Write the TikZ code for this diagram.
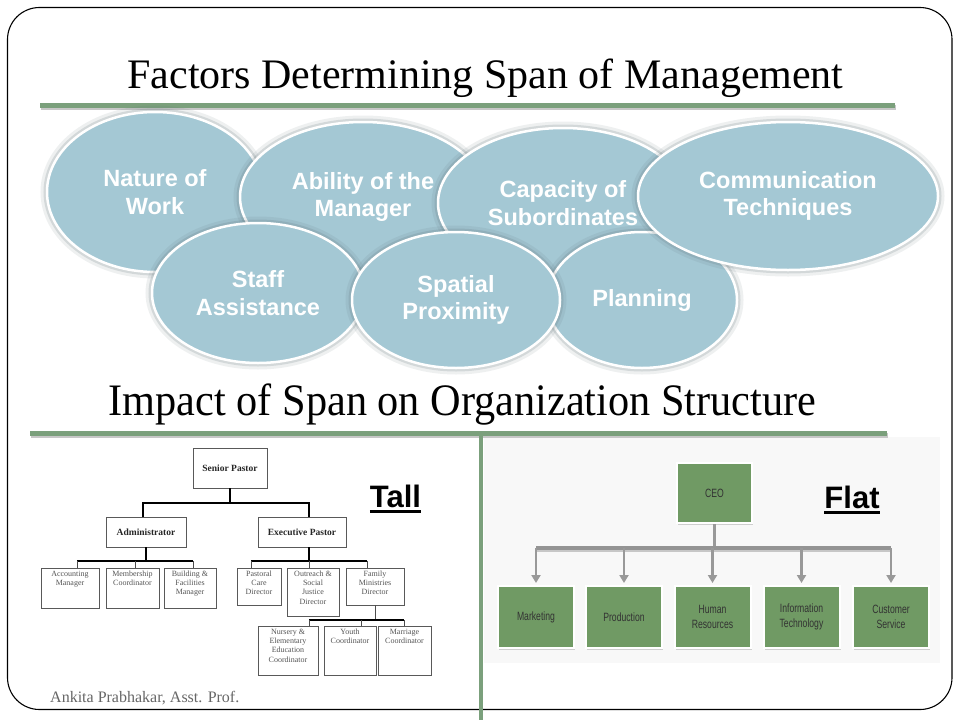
\documentclass[tikz,border=0pt]{standalone}
\usepackage{fontspec}
\setmainfont{Liberation Serif}
\setsansfont{Liberation Sans}
\usetikzlibrary{shapes.geometric,arrows.meta,shadows}
\definecolor{ellfill}{HTML}{A4C8D4}
\definecolor{lgreen}{HTML}{7BA07C}
\definecolor{boxgreen}{HTML}{709A64}
\definecolor{flatbg}{HTML}{F8F8F8}
\definecolor{tallgray}{HTML}{555555}
\begin{document}
\begin{tikzpicture}[x=1pt,y=-1pt,
  ell/.style={ellipse, inner sep=0pt, fill=ellfill, draw=white, line width=2.5pt,
    text=white, font=\sffamily\bfseries\fontsize{23.5}{27.5}\selectfont, align=center,
    preaction={draw=ellfill!55!black, draw opacity=0.10, line width=13pt},
    preaction={draw=ellfill!55!black, draw opacity=0.18, line width=7pt}},
  gline/.style={line width=5pt, lgreen},
  gshadow/.style={line width=5pt, black!22},
  tbox/.style={draw=black!65, line width=0.8pt, fill=white, inner sep=0pt},
  tlab/.style={anchor=north, align=center, inner sep=0pt, yshift=-3pt, text=tallgray,
    font=\fontsize{8}{9.3}\selectfont},
  tbold/.style={font=\bfseries\fontsize{9.5}{11}\selectfont, text=black!85},
  tline/.style={line width=1.8pt, black},
  tthin/.style={line width=0.8pt, black!70},
  fbox/.style={draw=white, line width=2pt, fill=boxgreen, minimum width=76pt, minimum height=62pt,
    inner sep=0pt, align=center, text=black!80,
    font=\sffamily\fontsize{12}{15.5}\selectfont,
    drop shadow={shadow xshift=1.2pt, shadow yshift=-1.8pt, opacity=0.35}},
  farr/.style={draw=black!40, line width=2.2pt, -{Triangle[length=8pt,width=9pt]}},
  tag/.style={font=\sffamily\bfseries\fontsize{31}{34}\selectfont, inner sep=0pt, anchor=base}
]
\useasboundingbox (0,0) rectangle (960,720);
\fill[white] (0,0) rectangle (960,720);
% frame
\draw[line width=1.1pt, rounded corners=32pt] (7.5,7.5) rectangle (952,709.5);
% flat chart background
\fill[flatbg] (484,437) rectangle (940,663);
% green rules
\draw[gshadow] (41,107.5) -- (896,107.5);
\draw[gline] (40,105) -- (895,105);
\draw[gshadow] (31,435.5) -- (888,435.5);
\draw[gline] (30,433) -- (887,433);
\draw[line width=4pt, lgreen] (481,433) -- (481,720);
% titles
\node[anchor=base, inner sep=0pt, font=\fontsize{42}{48}\selectfont] (t1) at (485.5,88) {Factors Determining Span of Management};
\node[anchor=base, inner sep=0pt, xscale=0.94, font=\fontsize{45}{50}\selectfont] (t2) at (462.5,415) {Impact of Span on Organization Structure};
% ellipses
\node[ell, minimum width=216pt, minimum height=160pt] (nat) at (155,192) {Nature of\\Work};
\node[ell, minimum width=246pt, minimum height=150pt] (abl) at (363,197) {Ability of the\\Manager};
\node[ell, minimum width=250pt, minimum height=150pt] (cap) at (563,203) {Capacity of\\Subordinates};
\node[ell, minimum width=190pt, minimum height=136pt] (pln) at (642,300) {Planning};
\node[ell, minimum width=212pt, minimum height=140pt] (stf) at (258,293) {Staff\\Assistance};
\node[ell, minimum width=208pt, minimum height=136pt] (spa) at (456,300) {Spatial\\Proximity};
\node[ell, minimum width=300pt, minimum height=148pt] (com) at (788,196) {Communication\\Techniques};
% ---------- tall chart ----------
\node[tbox, minimum width=74pt, minimum height=40pt, tbold] (sp) at (230,468) {Senior Pastor};
\node[tbox, minimum width=80pt, minimum height=30pt, tbold] (adm) at (146,532) {Administrator};
\node[tbox, minimum width=88pt, minimum height=30pt, tbold] (exe) at (302,532) {Executive Pastor};
\node[tbox, minimum width=58pt, minimum height=40pt, label={[tlab]north:Accounting\\Manager}] (acc) at (70,588) {};
\node[tbox, minimum width=53pt, minimum height=40pt, label={[tlab]north:Membership\\Coordinator}] (mem) at (132.5,588) {};
\node[tbox, minimum width=52pt, minimum height=40pt, label={[tlab]north:Building \&\\Facilities\\Manager}] (bld) at (190,588) {};
\node[tbox, minimum width=44pt, minimum height=37pt, label={[tlab]north:Pastoral\\Care\\Director}] (pcd) at (259,586.5) {};
\node[tbox, minimum width=52pt, minimum height=48pt, label={[tlab]north:Outreach \&\\Social\\Justice\\Director}] (out) at (313,592) {};
\node[tbox, minimum width=58pt, minimum height=37pt, label={[tlab]north:Family\\Ministries\\Director}] (fam) at (375,586.5) {};
\node[tbox, minimum width=60pt, minimum height=49pt, label={[tlab]north:Nursery \&\\Elementary\\Education\\Coordinator}] (nur) at (288,650.5) {};
\node[tbox, minimum width=52pt, minimum height=49pt, label={[tlab]north:Youth\\Coordinator}] (yth) at (350,650.5) {};
\node[tbox, minimum width=53pt, minimum height=49pt, label={[tlab]north:Marriage\\Coordinator}] (mar) at (404.5,650.5) {};
% tall connectors
\coordinate (j1) at (143,503);
\coordinate (j2) at (309,503);
\draw[tline] (sp.south) -- (sp.south |- j1);
\draw[tline] (adm.north -| j1) -- (j1) -- (j2) -- (exe.north -| j2);
\coordinate (a1) at (77,561);
\coordinate (a2) at (135,561);
\coordinate (a3) at (193,561);
\draw[tline] (adm.south) -- (adm.south |- a1);
\draw[tline] (a1) -- (a3);
\draw[tthin] (a1) -- (a1 |- acc.north);
\draw[tthin] (a2) -- (a2 |- mem.north);
\draw[tthin] (a3) -- (a3 |- bld.north);
\coordinate (e1) at (251,561);
\coordinate (e2) at (309,561);
\coordinate (e3) at (367,561);
\draw[tline] (exe.south -| e2) -- (e2);
\draw[tline] (e1) -- (e3);
\draw[tthin] (e1) -- (e1 |- pcd.north);
\draw[tthin] (e2) -- (e2 |- out.north);
\draw[tthin] (e3) -- (e3 |- fam.north);
\coordinate (f1) at (309,620);
\coordinate (f2) at (361,620);
\coordinate (f3) at (404,620);
\draw[tthin] (fam.south) -- (fam.south |- f1);
\draw[tline] (f1) -- (f3);
\draw[tthin] (f1) -- (f1 |- nur.north);
\draw[tthin] (f2) -- (f2 |- yth.north);
\draw[tthin] (f3) -- (f3 |- mar.north);
% Tall label
\node[tag] (tall) at (395.5,507) {Tall};
\draw[line width=2.5pt] ([yshift=-4.5pt]tall.base west) -- ([yshift=-4.5pt]tall.base east);
% ---------- flat chart ----------
\node[fbox, minimum width=75pt, minimum height=60pt] (ceo) at (714.5,493) {\scalebox{0.72}[1]{CEO}};
\coordinate (b1) at (536,548);
\coordinate (b2) at (624,548);
\coordinate (b3) at (712.5,548);
\coordinate (b4) at (801.5,548);
\coordinate (b5) at (891,548);
\node[fbox] (mkt) at (536,617) {\scalebox{0.72}[1]{Marketing}};
\node[fbox] (prd) at (624,617) {\scalebox{0.72}[1]{Production}};
\node[fbox] (hr) at (712.5,617) {\scalebox{0.72}[1]{Human}\\\scalebox{0.72}[1]{Resources}};
\node[fbox] (it) at (801.5,617) {\scalebox{0.72}[1]{Information}\\\scalebox{0.72}[1]{Technology}};
\node[fbox] (cs) at (891,617) {\scalebox{0.72}[1]{Customer}\\\scalebox{0.72}[1]{Service}};
\draw[draw=black!40, line width=3pt] (ceo.south) -- (ceo.south |- b3);
\draw[draw=black!22, line width=5pt] ([yshift=-1pt]b1) -- ([yshift=-1pt]b5);
\draw[draw=black!42, line width=4pt] (b1) -- (b5);
\draw[farr] (b1) -- ([yshift=2pt]mkt.north);
\draw[farr] (b2) -- ([yshift=2pt]prd.north);
\draw[farr] (b3) -- ([yshift=2pt]hr.north);
\draw[farr] (b4) -- ([yshift=2pt]it.north);
\draw[farr] (b5) -- ([yshift=2pt]cs.north);
% Flat label
\node[tag] (flat) at (852,508) {Flat};
\draw[line width=2.5pt] ([yshift=-4.5pt]flat.base west) -- ([yshift=-4.5pt]flat.base east);
% footer
\node[anchor=base west, inner sep=0pt, text=black!60, font=\fontsize{16}{18}\selectfont] (foot) at (50,702) {Ankita Prabhakar, Asst. Prof.};
\end{tikzpicture}
\end{document}
